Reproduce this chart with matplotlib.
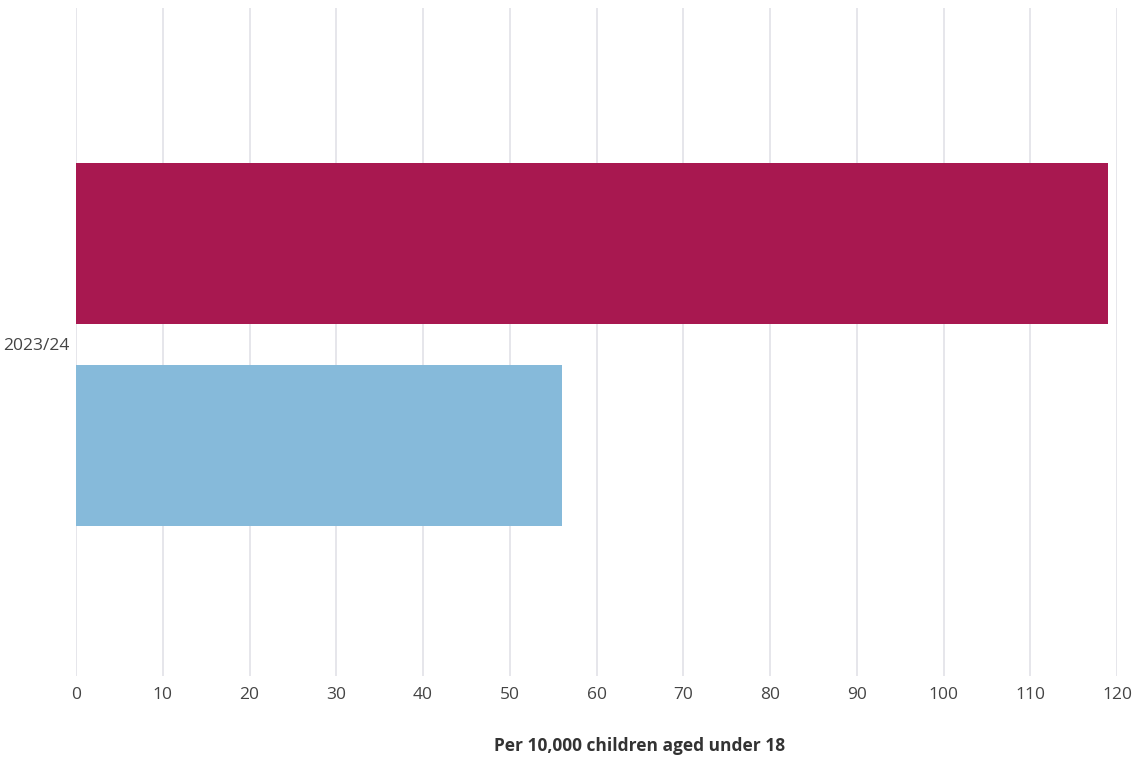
import matplotlib.pyplot as plt

# data
categories = ['2023/24']
series_names = ['Series A', 'Series B']
series_values = [[119], [56]]
series_colors = ['#A81850', '#86BADA']
x_ticks = [0, 10, 20, 30, 40, 50, 60, 70, 80, 90, 100, 110, 120]

plt.rcParams['font.family'] = ['Open Sans', 'DejaVu Sans']

fig = plt.figure(figsize=(11.32, 7.58), dpi=100)
ax = fig.add_axes([76 / 1132, 1 - 676 / 758, (1117 - 76) / 1132, (676 - 8) / 758])

# two bars around the single category, red on top
offsets = [-0.147, 0.155]
bar_h = 0.241
for vals, off, col in zip(series_values, offsets, series_colors):
    ax.barh([i + off for i in range(len(categories))], vals, height=bar_h,
            color=col, zorder=3)

ax.set_ylim(0.5, -0.5)
ax.set_xlim(0, 120)
ax.set_xticks(x_ticks)
ax.set_yticks([i + 0.003 for i in range(len(categories))])
ax.set_yticklabels(categories)

ax.grid(axis='x', color='#e1e1e8', linewidth=1.2, zorder=0)
for s in ax.spines.values():
    s.set_visible(False)
ax.tick_params(axis='both', length=0, labelsize=12.5, colors='#444444')
ax.tick_params(axis='x', pad=8)
ax.tick_params(axis='y', pad=5)

# axis title sits right of the plot centre in the reference
fig.text(640 / 1132, 1 - 746 / 758, 'Per 10,000 children aged under 18',
         ha='center', va='center', fontsize=12.5, fontweight='bold', color='#333333')

fig.savefig('out.png', dpi=100)
